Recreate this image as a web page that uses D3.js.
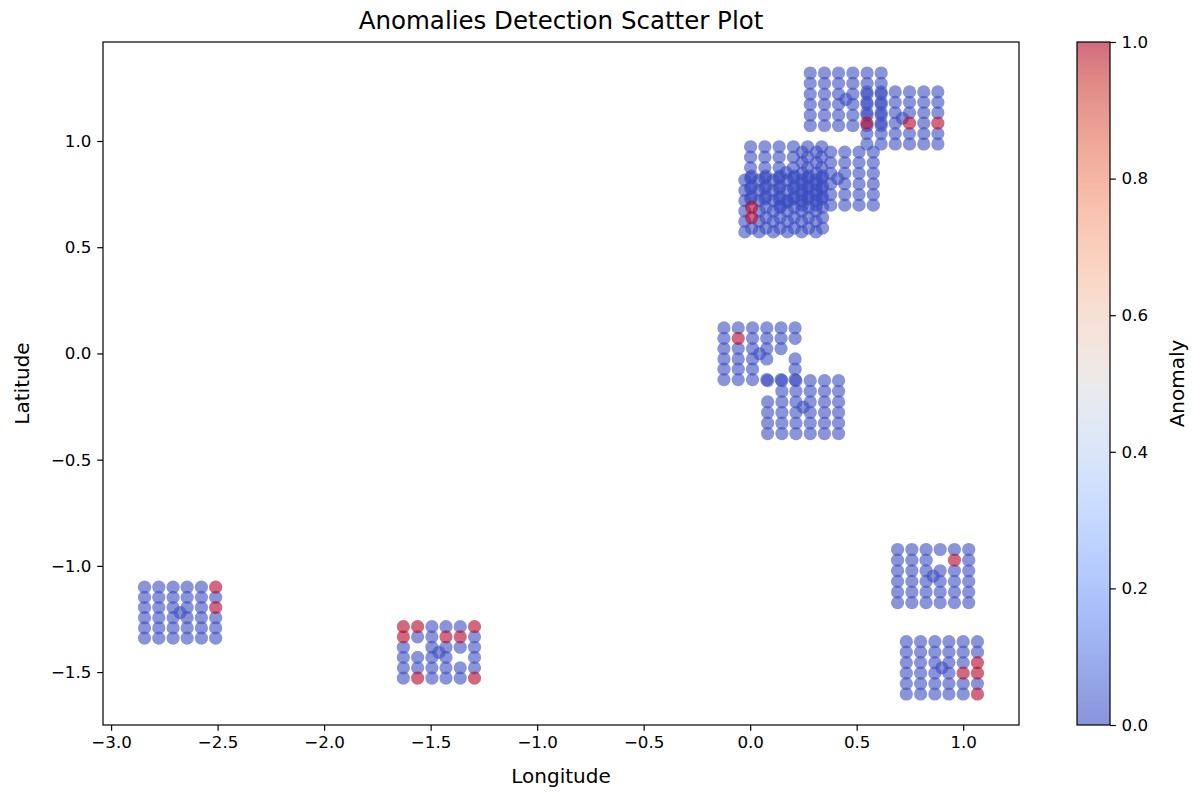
<!DOCTYPE html>
<html><head><meta charset="utf-8">
<script src="https://cdn.jsdelivr.net/npm/d3@7"></script>
<style>body{margin:0;background:#fff}text{font-family:"DejaVu Sans",sans-serif;fill:#000}</style></head>
<body><svg id="chart" width="1193" height="792"></svg>
<script>
// ---------- tick labels ----------
const xTicks = [-3.0, -2.5, -2.0, -1.5, -1.0, -0.5, 0.0, 0.5, 1.0];
const yTicks = [-1.5, -1.0, -0.5, 0.0, 0.5, 1.0];
const cbTicks = [0.0, 0.2, 0.4, 0.6, 0.8, 1.0];
const xDomain = [-3.038, 1.262];
const yDomain = [-1.749, 1.466];

// ---------- clusters: column longitudes, row latitudes, centre point,
// anomaly cells [col,row], absent cells [col,row] ----------
const lonA = [-2.843, -2.776, -2.709, -2.643, -2.576, -2.509];
const latA = [-1.100, -1.148, -1.196, -1.244, -1.292, -1.340];
const centerA = [-2.676, -1.220];
const anomA = [[5,0],[5,2]];
const gapA = [];

const lonB = [-1.628, -1.561, -1.494, -1.428, -1.361, -1.294];
const latB = [-1.286, -1.334, -1.383, -1.431, -1.480, -1.528];
const centerB = [-1.461, -1.407];
const anomB = [[0,0],[1,0],[5,0],[0,1],[3,1],[4,1],[1,5],[5,5]];
const gapB = [[1,2],[4,3]];

const lonC1 = [-0.123, -0.056, 0.011, 0.078, 0.145, 0.211];
const latC1 = [0.120, 0.071, 0.023, -0.026, -0.074, -0.123];
const centerC1 = [0.044, -0.002];
const anomC1 = [[1,1]];
const gapC1 = [[3,4],[4,3],[4,4],[5,2]];

const lonC2 = [0.082, 0.149, 0.215, 0.282, 0.349, 0.415];
const latC2 = [-0.128, -0.178, -0.228, -0.278, -0.328, -0.377];
const centerC2 = [0.249, -0.253];
const anomC2 = [];
const gapC2 = [[0,1]];

const lonD = [0.692, 0.759, 0.826, 0.892, 0.959, 1.026];
const latD = [-0.923, -0.973, -1.023, -1.073, -1.123, -1.173];
const centerD = [0.859, -1.048];
const anomD = [[4,1]];
const gapD = [[3,1]];

const lonE = [0.733, 0.800, 0.867, 0.933, 1.000, 1.067];
const latE = [-1.357, -1.406, -1.455, -1.505, -1.554, -1.603];
const centerE = [0.900, -1.480];
const anomE = [[5,2],[5,3],[4,3],[5,5]];
const gapE = [];

const lonH = [0.002, 0.069, 0.136, 0.203, 0.270, 0.336];
const latH = [0.973, 0.924, 0.875, 0.826, 0.777, 0.728];
const centerH = [0.169, 0.851];
const anomH = [];
const gapH = [];

const lonI = [-0.025, 0.042, 0.109, 0.175, 0.242, 0.309];
const latI = [0.816, 0.767, 0.719, 0.670, 0.621, 0.572];
const centerI = [0.142, 0.694];
const anomI = [];
const gapI = [];

const lonH2 = [0.007, 0.074, 0.140, 0.207, 0.274, 0.340];
const latH2 = [0.835, 0.786, 0.737, 0.688, 0.640, 0.590];
const centerH2 = [0.174, 0.712];
const anomH2 = [[0,3],[0,4]];
const gapH2 = [];

const lonJ = [0.244, 0.311, 0.378, 0.444, 0.511, 0.578];
const latJ = [0.948, 0.898, 0.848, 0.798, 0.748, 0.698];
const centerJ = [0.411, 0.823];
const anomJ = [];
const gapJ = [];

const lonF = [0.282, 0.349, 0.415, 0.482, 0.549, 0.615];
const latF = [1.320, 1.271, 1.221, 1.172, 1.122, 1.073];
const centerF = [0.449, 1.196];
const anomF = [];
const gapF = [];

const lonG = [0.548, 0.615, 0.681, 0.748, 0.815, 0.881];
const latG = [1.231, 1.182, 1.133, 1.084, 1.035, 0.986];
const centerG = [0.715, 1.107];
const anomG = [[0,3],[3,3],[5,3]];
const gapG = [];

// coolwarm colormap samples
const coolwarmStops = [
 [0.0,"rgb(59,76,192)"],[0.03125,"rgb(68,90,204)"],[0.0625,"rgb(77,104,215)"],[0.09375,"rgb(87,117,225)"],
 [0.125,"rgb(98,130,234)"],[0.15625,"rgb(108,142,241)"],[0.1875,"rgb(119,154,247)"],[0.21875,"rgb(130,165,251)"],
 [0.25,"rgb(141,176,254)"],[0.28125,"rgb(152,185,255)"],[0.3125,"rgb(163,194,255)"],[0.34375,"rgb(174,201,253)"],
 [0.375,"rgb(184,208,249)"],[0.40625,"rgb(194,213,244)"],[0.4375,"rgb(204,217,238)"],[0.46875,"rgb(213,219,230)"],
 [0.5,"rgb(221,221,221)"],[0.53125,"rgb(229,216,209)"],[0.5625,"rgb(236,211,197)"],[0.59375,"rgb(241,204,185)"],
 [0.625,"rgb(245,196,173)"],[0.65625,"rgb(247,187,160)"],[0.6875,"rgb(247,177,148)"],[0.71875,"rgb(247,166,135)"],
 [0.75,"rgb(244,154,123)"],[0.78125,"rgb(241,141,111)"],[0.8125,"rgb(236,127,99)"],[0.84375,"rgb(229,112,88)"],
 [0.875,"rgb(222,96,77)"],[0.90625,"rgb(213,80,66)"],[0.9375,"rgb(203,62,56)"],[0.96875,"rgb(192,40,47)"],
 [1.0,"rgb(180,4,38)"]
];

// ---------- build point table ----------
const clusters = [
  [lonA,latA,centerA,anomA,gapA],[lonB,latB,centerB,anomB,gapB],
  [lonC1,latC1,centerC1,anomC1,gapC1],[lonC2,latC2,centerC2,anomC2,gapC2],
  [lonD,latD,centerD,anomD,gapD],[lonE,latE,centerE,anomE,gapE],
  [lonH,latH,centerH,anomH,gapH],[lonI,latI,centerI,anomI,gapI],
  [lonH2,latH2,centerH2,anomH2,gapH2],[lonJ,latJ,centerJ,anomJ,gapJ],
  [lonF,latF,centerF,anomF,gapF],[lonG,latG,centerG,anomG,gapG]
];
const points = [];
clusters.forEach(([lons,lats,center,anom,gap]) => {
  const has = (list,c,r) => list.some(d => d[0]===c && d[1]===r);
  lats.forEach((la,r) => lons.forEach((lo,c) => {
    if (has(gap,c,r)) return;
    points.push({lon:lo, lat:la, v: has(anom,c,r) ? 1 : 0});
  }));
  points.push({lon:center[0], lat:center[1], v:0});
});

// ---------- drawing ----------
const svg = d3.select("#chart");
const P = {left:103, right:1019, top:42, bottom:725};
const x = d3.scaleLinear().domain(xDomain).range([P.left, P.right]);
const y = d3.scaleLinear().domain(yDomain).range([P.bottom, P.top]);
const cmap = d3.scaleLinear().domain(coolwarmStops.map(d=>d[0])).range(coolwarmStops.map(d=>d[1]));

const sorted = points.filter(d=>d.v===0).concat(points.filter(d=>d.v===1));
svg.append("g").selectAll("circle").data(sorted).join("circle")
  .attr("cx", d=>x(d.lon)).attr("cy", d=>y(d.lat)).attr("r", 6.6)
  .attr("fill", d=>cmap(d.v)).attr("fill-opacity", 0.6);

const tickFmt = d3.format(".1f");
const xAxis = svg.append("g").attr("transform",`translate(0,${P.bottom})`)
  .call(d3.axisBottom(x).tickValues(xTicks).tickFormat(tickFmt).tickSize(5.8).tickPadding(5.8));
const yAxis = svg.append("g").attr("transform",`translate(${P.left},0)`)
  .call(d3.axisLeft(y).tickValues(yTicks).tickFormat(tickFmt).tickSize(5.8).tickPadding(5.8));
[xAxis,yAxis].forEach(g => {
  g.select(".domain").remove();
  g.selectAll(".tick line").attr("stroke","#000").attr("stroke-width",1.2);
  g.selectAll(".tick text").style("font-size","16.7px").style("font-family","DejaVu Sans").attr("fill","#000");
});

svg.append("rect").attr("x",P.left).attr("y",P.top).attr("width",P.right-P.left).attr("height",P.bottom-P.top)
  .attr("fill","none").attr("stroke","#000").attr("stroke-width",1.2);

svg.append("text").attr("x",(P.left+P.right)/2).attr("y",29).attr("text-anchor","middle")
  .style("font-size","24.5px").text("Anomalies Detection Scatter Plot");
svg.append("text").attr("x",(P.left+P.right)/2).attr("y",783).attr("text-anchor","middle")
  .style("font-size","20px").text("Longitude");
svg.append("text").attr("transform",`translate(29,${(P.top+P.bottom)/2}) rotate(-90)`).attr("text-anchor","middle")
  .style("font-size","20px").text("Latitude");

// ---------- colorbar ----------
const CB = {left:1077, right:1110, top:42, bottom:725};
const defs = svg.append("defs");
const grad = defs.append("linearGradient").attr("id","cw").attr("x1",0).attr("y1",1).attr("x2",0).attr("y2",0);
grad.selectAll("stop").data(coolwarmStops).join("stop")
  .attr("offset", d=>d[0]).attr("stop-color", d=>d[1]);
svg.append("rect").attr("x",CB.left).attr("y",CB.top).attr("width",CB.right-CB.left).attr("height",CB.bottom-CB.top)
  .attr("fill","url(#cw)").attr("fill-opacity",0.6);
svg.append("rect").attr("x",CB.left).attr("y",CB.top).attr("width",CB.right-CB.left).attr("height",CB.bottom-CB.top)
  .attr("fill","none").attr("stroke","#000").attr("stroke-width",1.2);
const cy = d3.scaleLinear().domain([0,1]).range([CB.bottom, CB.top]);
const cbAxis = svg.append("g").attr("transform",`translate(${CB.right},0)`)
  .call(d3.axisRight(cy).tickValues(cbTicks).tickFormat(tickFmt).tickSize(5.8).tickPadding(5.8));
cbAxis.select(".domain").remove();
cbAxis.selectAll(".tick line").attr("stroke","#000").attr("stroke-width",1.2);
cbAxis.selectAll(".tick text").style("font-size","16.7px").style("font-family","DejaVu Sans").attr("fill","#000");
svg.append("text").attr("transform",`translate(1184,${(CB.top+CB.bottom)/2}) rotate(-90)`).attr("text-anchor","middle")
  .style("font-size","20px").text("Anomaly");
</script></body></html>
